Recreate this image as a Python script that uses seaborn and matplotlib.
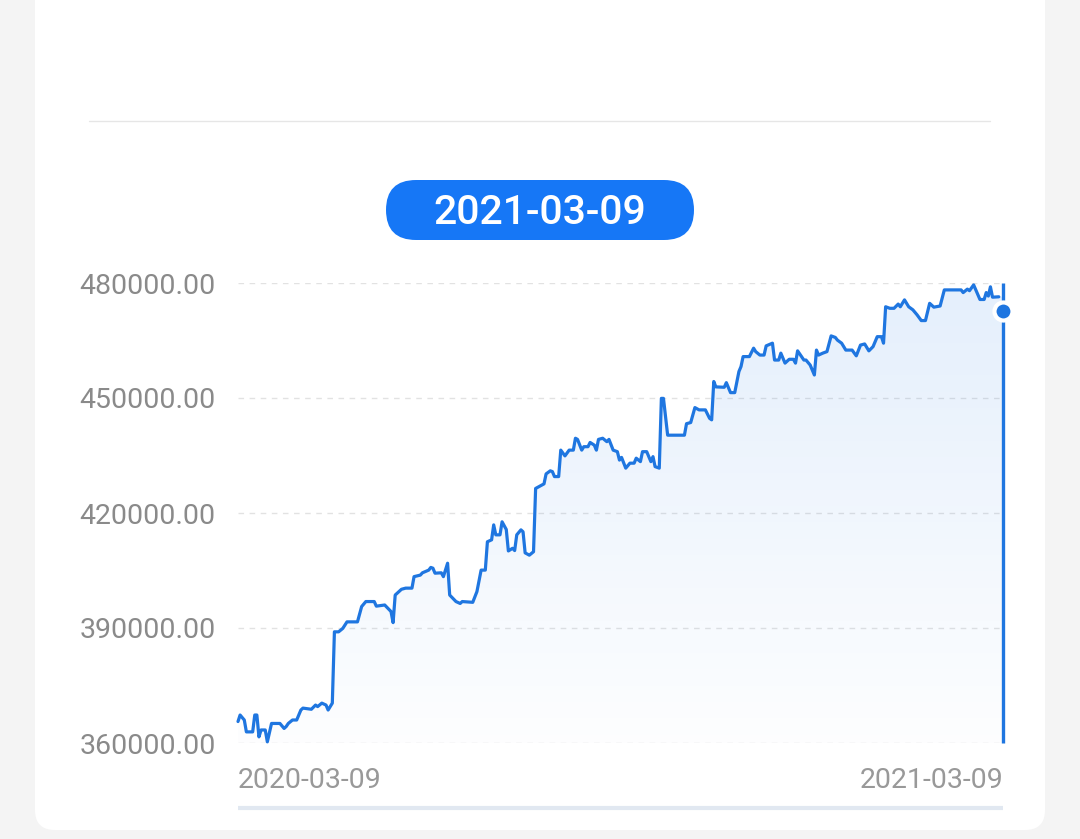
import numpy as np
import matplotlib
matplotlib.use("Agg")
import matplotlib.pyplot as plt
import seaborn as sns
from matplotlib.patches import FancyBboxPatch, Polygon
from matplotlib.colors import LinearSegmentedColormap
from matplotlib.lines import Line2D

# days since 2020-03-09 and account value
day = [0, 1, 3, 4, 7, 8, 9, 10, 11, 13, 14, 16, 18, 20, 22, 23, 24, 26, 28, 30,
       31, 35, 37, 38, 40, 42, 43, 45, 46, 48, 50, 52, 57, 59, 61, 65, 66, 70, 73, 74,
       75, 76, 78, 80, 83, 84, 87, 88, 91, 92, 93, 94, 97, 98, 100, 101, 104, 106, 107, 112,
       114, 116, 118, 119, 121, 122, 123, 125, 126, 128, 129, 131, 132, 133, 135, 136, 137, 139, 141, 142,
       144, 146, 147, 149, 150, 151, 153, 154, 156, 158, 160, 161, 162, 164, 165, 167, 168, 170, 171, 172,
       174, 176, 177, 179, 181, 182, 183, 185, 187, 189, 190, 192, 193, 195, 197, 198, 199, 201, 202, 203,
       205, 213, 214, 216, 218, 220, 223, 225, 226, 227, 228, 232, 233, 235, 237, 239, 240, 241, 244, 246,
       247, 249, 251, 252, 255, 256, 258, 259, 261, 263, 265, 266, 267, 270, 271, 273, 275, 276, 277, 279,
       281, 283, 285, 286, 288, 290, 293, 295, 297, 299, 301, 303, 305, 307, 308, 309, 311, 313, 315, 316,
       318, 320, 322, 324, 326, 328, 330, 332, 335, 337, 345, 346, 348, 349, 351, 354, 356, 357, 358, 359,
       360, 363]
value = [365600, 367300, 366000, 362900, 362900, 367300, 367300, 361600, 363400, 363400,
         360300, 365100, 365100, 365100, 363800, 364300, 365100, 366000, 366000, 368600,
         369100, 368800, 369900, 369500, 370400, 369900, 368600, 370400, 389000, 389000,
         389900, 391600, 391600, 395600, 396900, 396900, 395700, 396000, 394300, 391400,
         398600, 399100, 400100, 400400, 400400, 403400, 403800, 404400, 405100, 405800,
         405600, 404300, 404400, 403400, 406900, 398600, 396900, 396400, 396900, 396700,
         399500, 405100, 405100, 412500, 413000, 416900, 414300, 414300, 417700, 415700,
         410100, 410800, 410200, 414300, 415600, 415100, 409600, 409000, 409900, 426400,
         427000, 427600, 430200, 431000, 430800, 429500, 429500, 436400, 434900, 436400,
         436400, 439500, 439200, 436400, 437300, 437300, 438400, 437700, 436400, 439200,
         439500, 438600, 439200, 436400, 436000, 433800, 434500, 431700, 433000, 433000,
         434300, 433400, 436000, 436000, 433400, 434700, 432100, 431700, 449900, 449900,
         440300, 440300, 443300, 443600, 447500, 446900, 446900, 444700, 444300, 454300,
         452900, 452800, 454000, 451400, 451400, 456900, 458200, 460800, 460800, 463000,
         462100, 461200, 461200, 463600, 464300, 459900, 459900, 461700, 459100, 460100,
         460100, 459100, 462300, 459900, 459900, 458600, 456000, 462500, 461200, 461700,
         462100, 466200, 465800, 465100, 464300, 462500, 462500, 461000, 463800, 464100,
         462300, 463400, 466000, 466000, 464300, 473800, 473400, 473400, 474500, 473800,
         475600, 473800, 473000, 471700, 470200, 470200, 474700, 473700, 474000, 478200,
         478200, 477500, 478400, 478000, 479500, 475700, 475700, 477500, 476600, 479000,
         476300, 476400]

total_days = 365
start_label = "2020-03-09"
end_label = "2021-03-09"
selected_label = "2021-03-09"
selected_value = 472700
y_ticks = [360000, 390000, 420000, 450000, 480000]

blue = "#1f76e0"
pill_blue = "#1677f6"

sns.set_style("white")
plt.rcParams["font.family"] = ["Roboto", "DejaVu Sans"]

fig = plt.figure(figsize=(10.8, 8.39), dpi=100, facecolor="#f4f4f4")
inch = fig.dpi_scale_trans

# white card
card = FancyBboxPatch((0.35, 0.09), 10.10, 8.8, boxstyle="round,pad=0,rounding_size=0.2",
                      transform=inch, facecolor="white", edgecolor="none", zorder=-5)
fig.add_artist(card)
fig.add_artist(Line2D([0.89, 9.90], [7.18, 7.18], transform=inch, color="#e6e6e6", lw=1))

# selected date pill
pill = FancyBboxPatch((3.86, 5.99), 3.08, 0.60, boxstyle="round,pad=0,rounding_size=0.30",
                      transform=inch, facecolor=pill_blue, edgecolor="none")
fig.add_artist(pill)
fig.text(5.40, 6.15, selected_label, transform=inch, ha="center", va="baseline",
         fontsize=29.5, fontweight="medium", color="white")

ax = fig.add_axes([238 / 1080, 1 - 743 / 839, 765 / 1080, 460 / 839])
ax.set_facecolor("none")

# gradient fill below the line
grad = np.linspace(0, 1, 256).reshape(-1, 1)
cmap = LinearSegmentedColormap.from_list(
    "fade", [(0.12, 0.47, 0.90, 0.01), (0.12, 0.47, 0.90, 0.12)])
im = ax.imshow(grad, extent=[0, total_days, y_ticks[0], y_ticks[-1]], origin="lower",
               aspect="auto", cmap=cmap, zorder=1)
poly = Polygon(np.column_stack([[day[0]] + day + [total_days, total_days],
                                [y_ticks[0]] + value + [value[-1], y_ticks[0]]]),
               closed=True, facecolor="none", edgecolor="none")
ax.add_patch(poly)
im.set_clip_path(poly)

sns.lineplot(x=day, y=value, ax=ax, color=blue, lw=2.3, estimator=None, sort=False,
             zorder=3, clip_on=False, solid_joinstyle="round")

ax.vlines(total_days, y_ticks[0], y_ticks[-1], color=blue, lw=2.4, zorder=3, clip_on=False)
ax.plot(total_days, selected_value, "o", ms=13, mfc=blue, mec="white", mew=3,
        zorder=5, clip_on=False)

ax.set_xlim(0, total_days)
ax.set_ylim(y_ticks[0], y_ticks[-1])
ax.grid(axis="y", ls=(0, (4, 4)), color="#e2e2e2", lw=1)
ax.grid(axis="x", visible=False)
for s in ax.spines.values():
    s.set_visible(False)

ax.set_yticks(y_ticks)
ax.set_yticklabels([f"{v:.2f}" for v in y_ticks])
ax.tick_params(axis="y", length=0, pad=16, labelsize=20.5, labelcolor="#8a8a8a")
ax.set_xticks([0, total_days])
ax.set_xticklabels([start_label, end_label])
ax.tick_params(axis="x", length=0, pad=17, labelsize=20.5, labelcolor="#999999")
xl = ax.get_xticklabels()
xl[0].set_ha("left")
xl[1].set_ha("right")

# bottom slider bar
fig.add_artist(Line2D([2.38, 10.03], [0.31, 0.31], transform=inch, color="#e1e8f1",
                      lw=3, solid_capstyle="butt"))

fig.savefig("out.png", dpi=100, facecolor=fig.get_facecolor())
